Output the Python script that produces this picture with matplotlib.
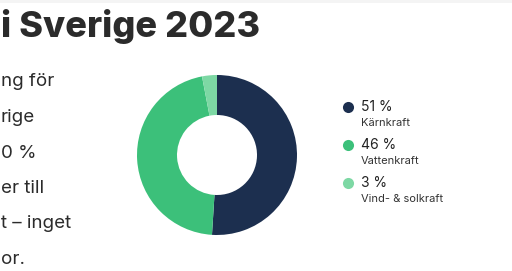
import matplotlib.pyplot as plt
from matplotlib.patches import Rectangle

# data
labels = ['Kärnkraft', 'Vattenkraft', 'Vind- & solkraft']
shares = [51, 46, 3]
colors = ['#1c2f4f', '#3cc07a', '#7dd8a4']

title = 'i Sverige 2023'
# visible part of the text column (the rest is cut by the picture edge)
body_lines = ['ng för', 'rige', '0 %', 'er till', 't – inget', 'or.']

W, H = 512, 271
fig = plt.figure(figsize=(W / 100, H / 100), dpi=100)
fig.patch.set_facecolor('white')

# overlay in pixel coords
ov = fig.add_axes([0, 0, 1, 1])
ov.set_xlim(0, W)
ov.set_ylim(H, 0)
ov.axis('off')
ov.add_patch(Rectangle((0, 0), W, 3, color='#f4f4f4', lw=0))

ov.text(1, 37, title, ha='left', va='baseline', fontsize=26,
        fontweight='heavy', family='Inter', color='#2b2b2b')

for i, line in enumerate(body_lines):
    ov.text(1, 82 + i * 35.5, line, ha='left', va='center',
            fontsize=13.5, family='Inter', color='#2b2b2b')

# donut
cx, cy, r = 217, 155, 80
ax = fig.add_axes([(cx - r) / W, (H - cy - r) / H, 2 * r / W, 2 * r / H])
ax.pie(shares, colors=colors, startangle=90, counterclock=False, radius=1,
       wedgeprops=dict(width=0.5, linewidth=0))
ax.set_xlim(-1, 1)
ax.set_ylim(-1, 1)
ax.set_aspect('equal')

# legend
for i, (lab, val) in enumerate(zip(labels, shares)):
    y = 107 + i * 38
    ov.plot(348, y, 'o', ms=8, color=colors[i], mec='none')
    ov.text(361, y, f'{val} %', ha='left', va='center', fontsize=10,
            family='Inter', color='#222222')
    ov.text(361, y + 16, lab, ha='left', va='center', fontsize=8,
            family='Inter', color='#333333')

fig.savefig('out.png', dpi=100)
